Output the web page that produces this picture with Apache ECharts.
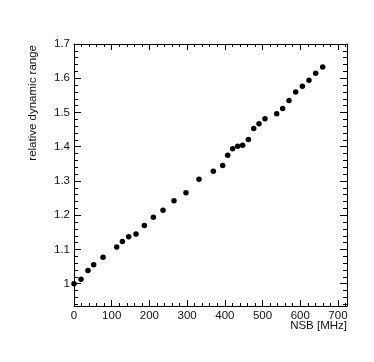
<!DOCTYPE html>
<html>
<head>
<meta charset="utf-8">
<script src="https://cdn.jsdelivr.net/npm/echarts@6/dist/echarts.min.js"></script>
<style>
html,body{margin:0;padding:0;background:#fff;}
#c{width:374px;height:362px;}
</style>
</head>
<body>
<div id="c"></div>
<script>
const nsb = [0, 18.6, 37.1, 52.2, 77.0, 113.2, 128.3, 145.1, 164.5, 186.6, 210.5, 236.1, 265.2, 297.0, 331.5, 369.5, 394.3, 407.6, 420.8, 434.1, 447.3, 462.4, 476.5, 490.6, 506.5, 537.5, 553.4, 570.2, 587.9, 605.6, 623.2, 641.0, 659.5];
const dynRange = [1.0, 1.0128, 1.039, 1.0556, 1.077, 1.107, 1.123, 1.1375, 1.145, 1.170, 1.194, 1.2145, 1.242, 1.266, 1.305, 1.3285, 1.345, 1.375, 1.394, 1.4015, 1.4045, 1.421, 1.453, 1.467, 1.4815, 1.496, 1.5118, 1.535, 1.5596, 1.577, 1.594, 1.6145, 1.633];
const yMajorTicks = [1.0, 1.1, 1.2, 1.3, 1.4, 1.5, 1.6, 1.7];
const xTitle = 'NSB [MHz]';
const yTitle = 'relative dynamic range';

const yMin = 0.935, yMax = 1.7;
const yMinorTicks = [];
for (let k = 47; k <= 85; k++) {
  const v = +(k * 0.02).toFixed(2);
  if (v >= yMin && v <= yMax && Math.abs(v * 10 - Math.round(v * 10)) > 1e-6) yMinorTicks.push(v);
}

const font = 'Liberation Sans, Arial, Helvetica, sans-serif';
const lineStyle = {color: '#000', width: 1};

function xAx(pos, labels) {
  return {
    type: 'value', position: pos, min: 0, max: 724, interval: 100,
    axisLine: {show: true, onZero: false, lineStyle},
    axisTick: {show: true, inside: true, length: 6, lineStyle},
    minorTick: {show: true, splitNumber: 5, length: 3, lineStyle},
    axisLabel: {show: labels, margin: 4, color: '#111', fontSize: 11.5, fontFamily: font},
    splitLine: {show: false}, minorSplitLine: {show: false}
  };
}
function yAx(pos, labels, ticks, len, line) {
  return {
    type: 'value', position: pos, min: yMin, max: yMax,
    axisLine: {show: line, onZero: false, lineStyle},
    axisTick: {show: true, inside: true, length: len, customValues: ticks, lineStyle},
    axisLabel: {show: labels, margin: 4, color: '#111', fontSize: 11.5, fontFamily: font,
      customValues: ticks, formatter: v => String(+(+v).toFixed(1))},
    splitLine: {show: false}
  };
}

const chart = echarts.init(document.getElementById('c'), null, {renderer: 'canvas'});
chart.setOption({
  animation: false,
  backgroundColor: '#fff',
  grid: {left: 74, right: 27, top: 44, bottom: 56, containLabel: false},
  xAxis: [xAx('bottom', true), xAx('top', false)],
  yAxis: [
    yAx('left', true, yMajorTicks, 7, true),
    yAx('right', false, yMajorTicks, 7, true),
    yAx('left', false, yMinorTicks, 4, false),
    yAx('right', false, yMinorTicks, 4, false)
  ],
  graphic: [
    {type: 'text', x: 347, y: 326, style: {text: xTitle, font: '11.5px ' + font, fill: '#111', textAlign: 'right', textVerticalAlign: 'middle'}},
    {type: 'text', x: 32.5, y: 45, rotation: Math.PI / 2, style: {text: yTitle, font: '11.5px ' + font, fill: '#111', textAlign: 'right', textVerticalAlign: 'middle'}}
  ],
  series: [{
    type: 'scatter', xAxisIndex: 0, yAxisIndex: 0,
    symbol: 'circle', symbolSize: 5.5,
    itemStyle: {color: '#000', opacity: 1},
    data: nsb.map((x, i) => [x, dynRange[i]])
  }]
});
</script>
</body>
</html>
